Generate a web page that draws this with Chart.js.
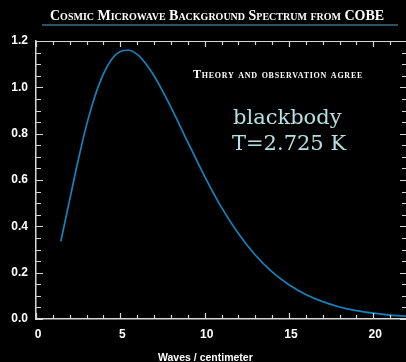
<!DOCTYPE html>
<html>
<head>
<meta charset="utf-8">
<script src="https://cdn.jsdelivr.net/npm/chart.js@4.4.1/dist/chart.umd.min.js"></script>
<style>
  html, body { margin: 0; padding: 0; background: #000; overflow: hidden; }
  #wrap { position: relative; width: 406px; height: 362px; overflow: hidden; }
  #wrap canvas { position: absolute; left: 0; top: 0; }
  .txt { position: absolute; white-space: nowrap; line-height: 1; }
  #title { left: 50px; top: 8px; color: #fff; font: bold 14px "Liberation Serif", "DejaVu Serif", serif; font-variant: small-caps; }
  #rule { position: absolute; left: 42px; top: 24px; width: 356px; height: 2px; background: #2b5366; }
  #note { left: 193px; top: 67px; color: #fff; font: bold 12px "Liberation Serif", serif; font-variant: small-caps; letter-spacing: 0.75px; }
  #bb1, #bb2 { color: #b6e0e0; font: 21px "DejaVu Serif", serif; }
  #bb1 { left: 233px; top: 105px; }
  #bb2 { left: 232px; top: 131px; }
  #xtitle { left: 158px; top: 351px; color: #fff; font: bold 10.5px "Liberation Sans", Arial, sans-serif; }
</style>
</head>
<body>
<div id="wrap">
  <canvas id="cmb-chart" width="410" height="362"></canvas>
  <div class="txt" id="title">Cosmic Microwave Background Spectrum from COBE</div>
  <div id="rule"></div>
  <div class="txt" id="note">Theory and observation agree</div>
  <div class="txt" id="bb1">blackbody</div>
  <div class="txt" id="bb2">T=2.725 K</div>
  <div class="txt" id="xtitle">Waves / centimeter</div>
</div>
<script>
// Spectrum samples: wavenumber (1/cm) and intensity
const waveNumbers = [1.47, 2.0, 2.5, 3.0, 3.5, 4.0, 4.5, 5.0, 5.5, 6.0, 6.5, 7.0, 7.5, 8.0,
  9.0, 10.0, 11.0, 12.0, 13.0, 14.0, 15.0, 16.0, 17.0, 18.0, 19.0, 20.0, 21.0, 22.0];
const intensity = [0.335, 0.515, 0.685, 0.838, 0.963, 1.058, 1.122, 1.155, 1.160, 1.142, 1.103, 1.050, 0.985, 0.915,
  0.764, 0.616, 0.482, 0.369, 0.276, 0.203, 0.148, 0.106, 0.075, 0.052, 0.036, 0.025, 0.017, 0.012];

const xTicks = [0, 5, 10, 15, 20];
const yTicks = [0.0, 0.2, 0.4, 0.6, 0.8, 1.0, 1.2];

const AXIS_COLOR = '#d6d6d6';

// Inward ticks on all four sides (minor every 1 / 0.05, major every 5 / 0.2)
const frameTicks = {
  id: 'frameTicks',
  afterDraw(chart) {
    const { ctx, chartArea: a, scales: { x, y } } = chart;
    ctx.save();
    ctx.strokeStyle = AXIS_COLOR;
    ctx.lineWidth = 1.2;
    ctx.beginPath();
    // top border
    ctx.moveTo(a.left, a.top + 0.5);
    ctx.lineTo(a.right, a.top + 0.5);
    for (let v = 0; v <= x.max + 1e-6; v += 1) {
      const px = Math.round(x.getPixelForValue(v)) + 0.5;
      const len = v % 5 === 0 ? 6 : 4;
      ctx.moveTo(px, a.bottom); ctx.lineTo(px, a.bottom - len);
      ctx.moveTo(px, a.top); ctx.lineTo(px, a.top + len);
    }
    for (let i = 0; i <= 24; i++) {
      const v = i * 0.05;
      const py = Math.round(y.getPixelForValue(v)) + 0.5;
      const len = i % 4 === 0 ? 7 : 5;
      ctx.moveTo(a.left, py); ctx.lineTo(a.left + len, py);
      ctx.moveTo(a.right, py); ctx.lineTo(a.right - len, py);
    }
    ctx.stroke();
    ctx.restore();
  }
};

const ctx = document.getElementById('cmb-chart').getContext('2d');
new Chart(ctx, {
  type: 'line',
  data: {
    datasets: [{
      data: waveNumbers.map((w, i) => ({ x: w, y: intensity[i] })),
      borderColor: '#1582bc',
      borderWidth: 1.7,
      pointRadius: 0,
      cubicInterpolationMode: 'monotone',
      fill: false
    }]
  },
  options: {
    responsive: false,
    animation: false,
    events: [],
    layout: { padding: { top: 41, right: 3, left: 0, bottom: 0 } },
    plugins: { legend: { display: false }, tooltip: { enabled: false } },
    scales: {
      x: {
        type: 'linear',
        min: 0,
        max: 22,
        afterFit(scale) { scale.height = 43; },
        afterBuildTicks(scale) { scale.ticks = xTicks.map(v => ({ value: v })); },
        grid: { display: false, drawTicks: false },
        border: { display: true, color: AXIS_COLOR, width: 1.5 },
        ticks: {
          color: '#fff',
          padding: 8,
          labelOffset: 2,
          maxRotation: 0,
          font: { family: '"Liberation Sans", Arial, sans-serif', size: 12, weight: 'bold' }
        }
      },
      y: {
        min: 0,
        max: 1.2,
        afterFit(scale) { scale.width = 36; },
        afterBuildTicks(scale) { scale.ticks = yTicks.map(v => ({ value: v })); },
        grid: { display: false, drawTicks: false },
        border: { display: true, color: AXIS_COLOR, width: 1.5 },
        ticks: {
          color: '#fff',
          padding: 8,
          callback: v => v.toFixed(1),
          font: { family: '"Liberation Sans", Arial, sans-serif', size: 12, weight: 'bold' }
        }
      }
    }
  },
  plugins: [frameTicks]
});
</script>
</body>
</html>
